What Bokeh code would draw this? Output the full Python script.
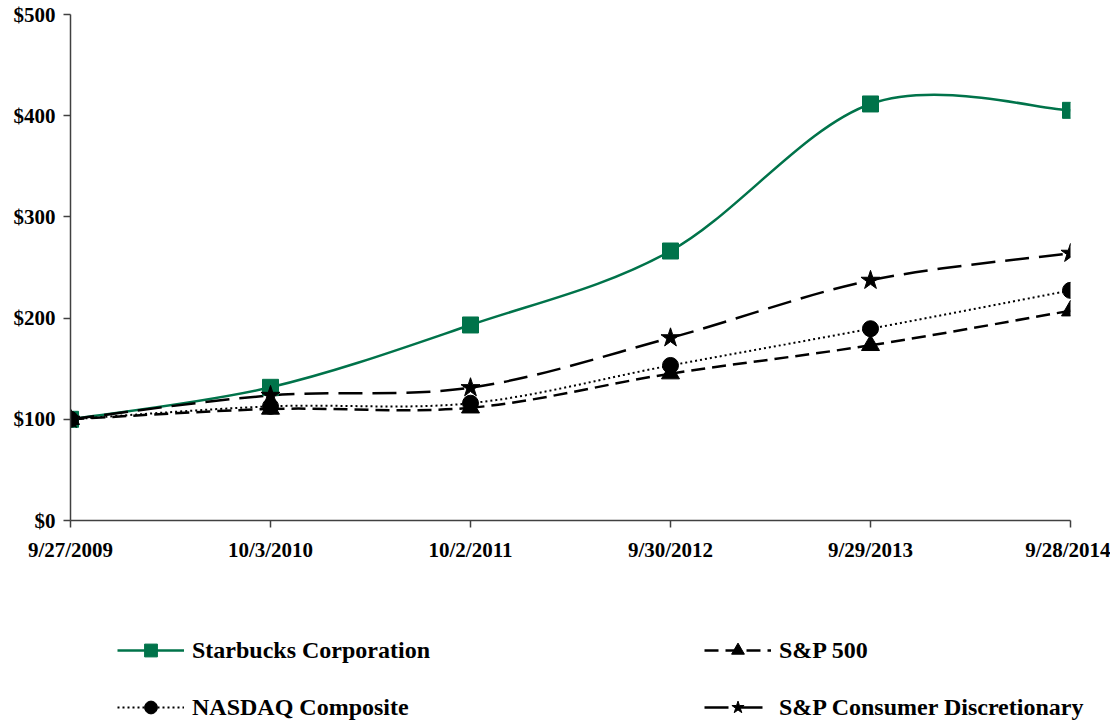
from bokeh.plotting import figure
from bokeh.models import Range1d, FixedTicker, Legend, LegendItem, ColumnDataSource
from bokeh.layouts import column
from bokeh.embed import file_html
from bokeh.resources import INLINE

dates = ["9/27/2009", "10/3/2010", "10/2/2011", "9/30/2012", "9/29/2013", "9/28/2014"]
starbucks = [100, 131.6, 193.2, 266.3, 411.6, 405.3]
sp500 = [100, 110.2, 111.4, 145.1, 173.1, 207.3]
nasdaq = [100, 112.8, 115.9, 153.2, 189.5, 227.4]
sp_cd = [100, 123.6, 131.2, 180.5, 237.3, 264.0]
y_ticks = [0, 100, 200, 300, 400, 500]
y_labels = ["$0", "$100", "$200", "$300", "$400", "$500"]

GREEN = "#00734A"
FONT = "Liberation Serif"

W, H1, H2 = 1110, 590, 135
p = figure(width=W, height=H1, output_backend="svg", toolbar_location=None,
           x_range=Range1d(0, 5), y_range=Range1d(0, 500),
           min_border_left=70, min_border_right=40, min_border_top=14,
           min_border_bottom=70)
p.outline_line_color = None
p.xgrid.visible = False
p.ygrid.visible = False
p.frame_align = False

xs = list(range(len(dates)))


def smooth_segments(ys):
    n = len(ys)
    d = dict(x0=[], y0=[], x1=[], y1=[], cx0=[], cy0=[], cx1=[], cy1=[])
    for i in range(n - 1):
        im1 = max(i - 1, 0)
        ip2 = min(i + 2, n - 1)
        d["x0"].append(xs[i]); d["y0"].append(ys[i])
        d["x1"].append(xs[i + 1]); d["y1"].append(ys[i + 1])
        d["cx0"].append(xs[i] + (xs[i + 1] - xs[im1]) / 6.0)
        d["cy0"].append(ys[i] + (ys[i + 1] - ys[im1]) / 6.0)
        d["cx1"].append(xs[i + 1] - (xs[ip2] - xs[i]) / 6.0)
        d["cy1"].append(ys[i + 1] - (ys[ip2] - ys[i]) / 6.0)
    return ColumnDataSource(d)


series = [
    ("Starbucks Corporation", starbucks, GREEN, "solid", 2.5, "square", 16),
    ("S&P 500", sp500, "black", "14 7", 2.5, "triangle", 18),
    ("NASDAQ Composite", nasdaq, "black", "2 3", 2, "circle", 16),
    ("S&P Consumer Discretionary", sp_cd, "black", "24 10", 2.5, "star", 20),
]

for name, ys, col, dash, lw, mk, sz in series:
    p.bezier(x0="x0", y0="y0", x1="x1", y1="y1", cx0="cx0", cy0="cy0",
             cx1="cx1", cy1="cy1", source=smooth_segments(ys),
             line_color=col, line_width=lw, line_dash=dash)

for name, ys, col, dash, lw, mk, sz in series:
    p.scatter(x=xs, y=ys, marker=mk, size=sz, fill_color=col, line_color=col)

# axes
p.xaxis.ticker = FixedTicker(ticks=xs)
p.xaxis.major_label_overrides = {i: d for i, d in enumerate(dates)}
p.yaxis.ticker = FixedTicker(ticks=y_ticks)
p.yaxis.major_label_overrides = {t: l for t, l in zip(y_ticks, y_labels)}
for ax in (p.xaxis, p.yaxis):
    ax.axis_line_color = "#404040"
    ax.axis_line_width = 1.5
    ax.major_tick_line_color = "#404040"
    ax.major_tick_line_width = 1.5
    ax.major_tick_in = 0
    ax.major_tick_out = 7
    ax.minor_tick_line_color = None
    ax.major_label_text_font = FONT
    ax.major_label_text_font_style = "bold"
    ax.major_label_text_font_size = "21px"
    ax.major_label_text_color = "black"
p.xaxis.major_label_standoff = 10
p.yaxis.major_label_standoff = 8

# legend figure (series drawn out of its view; only the legend is visible)
q = figure(width=W, height=H2, output_backend="svg", toolbar_location=None,
           x_range=Range1d(100, 101), y_range=Range1d(0, 500), min_border=0)
q.axis.visible = False
q.grid.visible = False
q.outline_line_color = None
q.frame_align = False

leg_r = {}
for name, ys, col, dash, lw, mk, sz in series:
    lr = q.line(x=xs, y=ys, line_color=col, line_width=lw, line_dash=dash)
    mr = q.scatter(x=xs, y=ys, marker=mk, size=sz, fill_color=col, line_color=col)
    leg_r[name] = [lr, mr]


def make_legend(names, loc):
    items = [LegendItem(label=n, renderers=leg_r[n]) for n in names]
    return Legend(items=items, location=loc, orientation="vertical",
                  glyph_width=67, glyph_height=32, label_height=26,
                  spacing=25, padding=0, margin=0, label_standoff=8,
                  border_line_color=None, background_fill_alpha=0,
                  label_text_font=FONT, label_text_font_style="bold",
                  label_text_font_size="24px", label_text_color="black")


q.add_layout(make_legend(["Starbucks Corporation", "NASDAQ Composite"], (117, 2)), "center")
q.add_layout(make_legend(["S&P 500", "S&P Consumer Discretionary"], (704, 2)), "center")

open("out.html", "w").write(file_html(column(p, q, spacing=0), INLINE))
